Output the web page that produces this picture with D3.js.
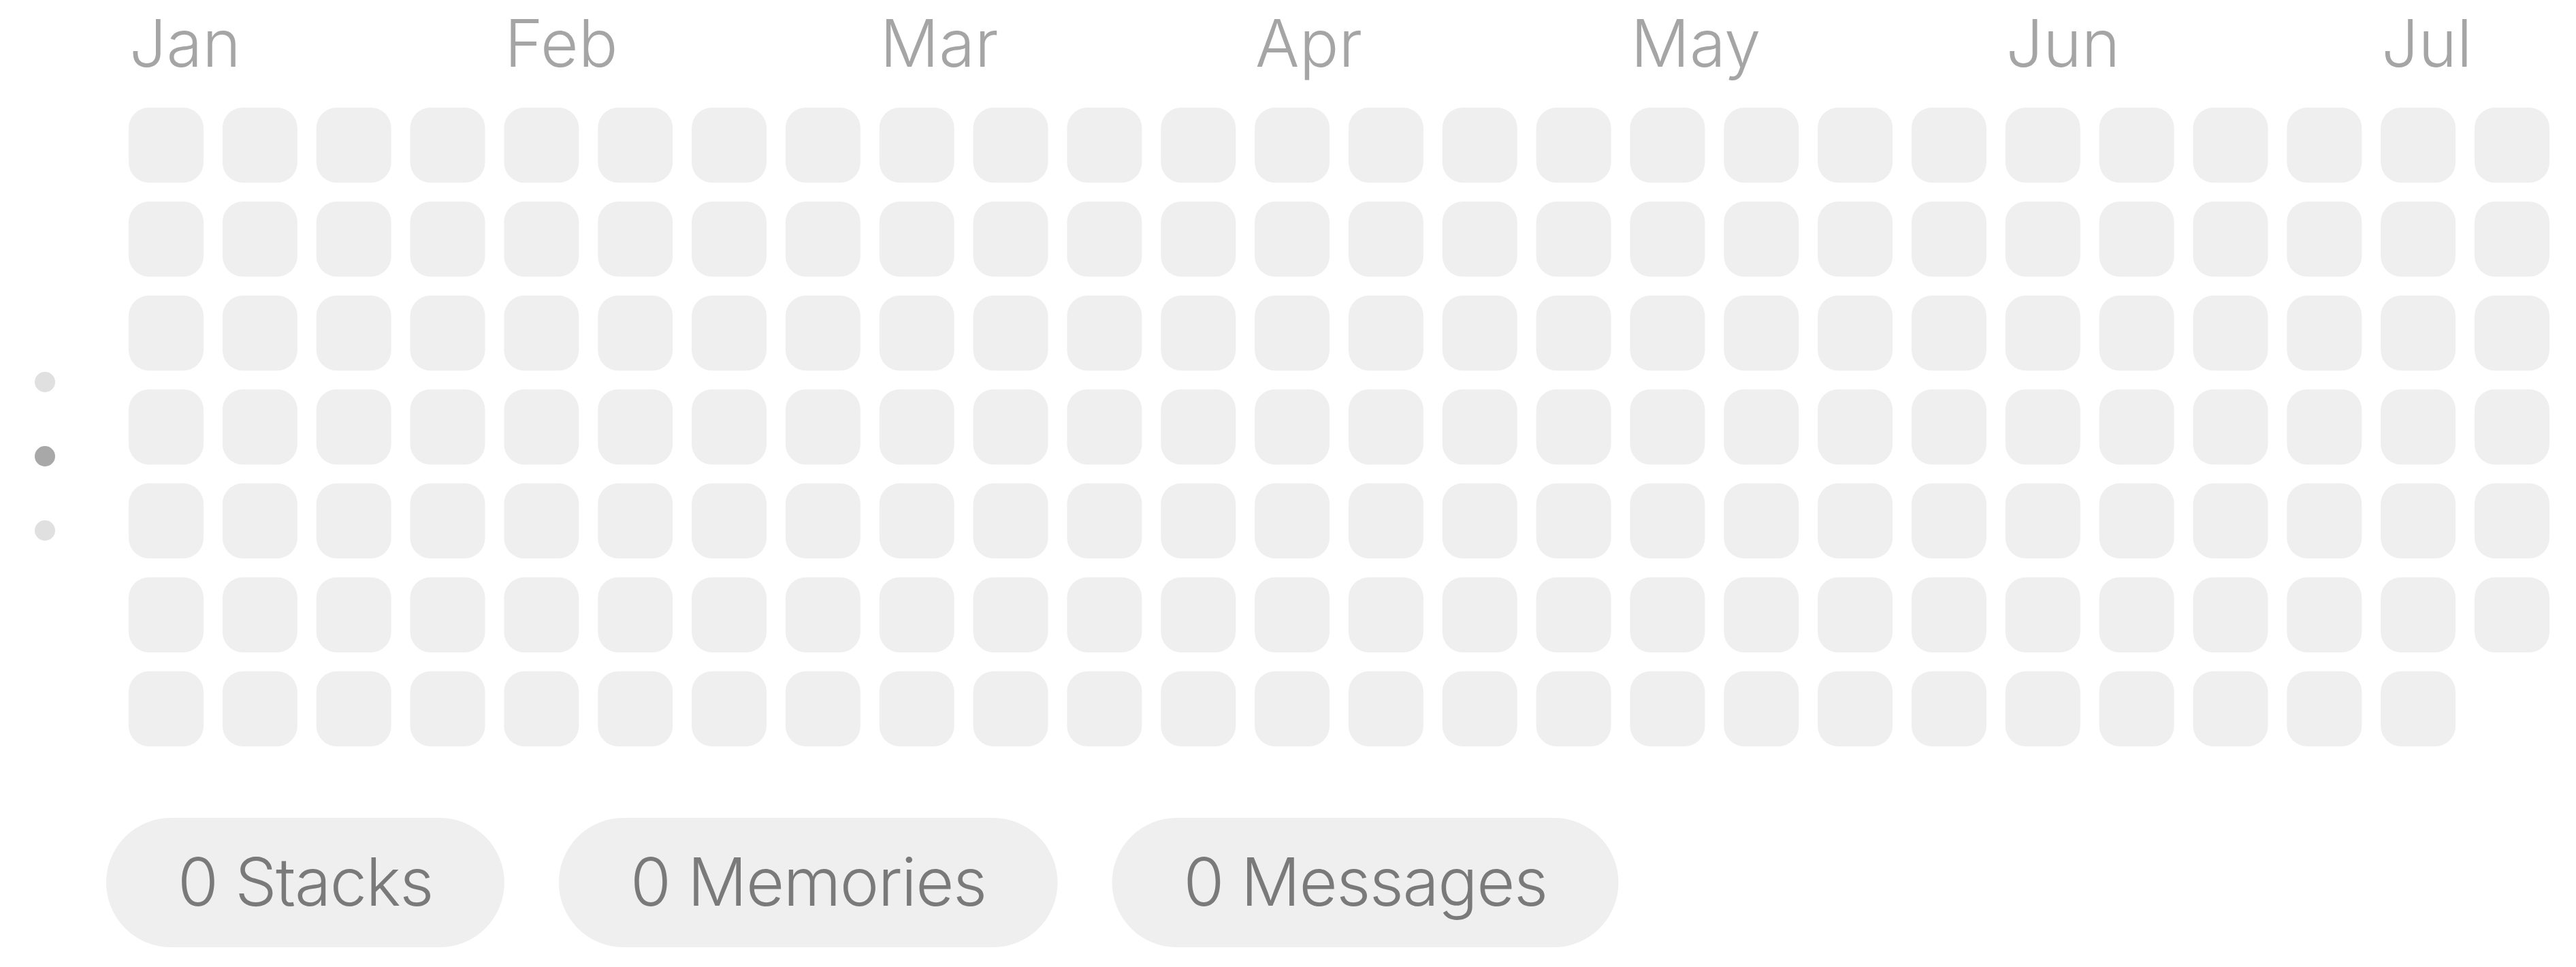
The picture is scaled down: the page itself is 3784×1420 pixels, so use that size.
<!DOCTYPE html>
<html>
<head>
<meta charset="utf-8">
<script src="https://cdn.jsdelivr.net/npm/d3@7/dist/d3.min.js"></script>
<style>
  html, body { margin: 0; padding: 0; background: #ffffff; }
  svg { display: block; }
</style>
</head>
<body>
<svg id="chart" width="3784" height="1420"></svg>
<script>
// ---- data ----
const monthLabels = ["Jan", "Feb", "Mar", "Apr", "May", "Jun", "Jul"];
const monthStartWeek = [0, 4, 8, 12, 16, 20, 24];
const weekdays = [0, 1, 2, 3, 4, 5, 6];
// daily activity counts, one row per week column (26 weeks, last week 6 days)
const dayCounts = [
  0,0,0,0,0,0,0, 0,0,0,0,0,0,0, 0,0,0,0,0,0,0, 0,0,0,0,0,0,0,
  0,0,0,0,0,0,0, 0,0,0,0,0,0,0, 0,0,0,0,0,0,0, 0,0,0,0,0,0,0,
  0,0,0,0,0,0,0, 0,0,0,0,0,0,0, 0,0,0,0,0,0,0, 0,0,0,0,0,0,0,
  0,0,0,0,0,0,0, 0,0,0,0,0,0,0, 0,0,0,0,0,0,0, 0,0,0,0,0,0,0,
  0,0,0,0,0,0,0, 0,0,0,0,0,0,0, 0,0,0,0,0,0,0, 0,0,0,0,0,0,0,
  0,0,0,0,0,0,0, 0,0,0,0,0,0,0, 0,0,0,0,0,0,0, 0,0,0,0,0,0,0,
  0,0,0,0,0,0,0, 0,0,0,0,0,0
];
const statLabels = ["Stacks", "Memories", "Messages"];
const statValues = [0, 0, 0];
const pagerDots = [0, 1, 2];
const activePage = 1;

// ---- layout ----
const svg = d3.select("#chart");
const FONT = "Inter, 'Open Sans', sans-serif";
const nWeeks = Math.ceil(dayCounts.length / 7);

const x = d3.scaleBand()
  .domain(d3.range(nWeeks))
  .range([189, 3745])
  .paddingInner(0.202)
  .paddingOuter(0);

const y = d3.scaleBand()
  .domain(weekdays)
  .range([158, 1096])
  .paddingInner(0.2)
  .paddingOuter(0);

const color = d3.scaleLinear()
  .domain([0, 10])
  .range(["#efefef", "#7a7a7a"])
  .clamp(true);

// month labels
svg.append("g")
  .selectAll("text")
  .data(monthLabels)
  .join("text")
  .attr("x", (d, i) => x(monthStartWeek[i]) + 1)
  .attr("y", 98)
  .attr("font-family", FONT)
  .attr("font-weight", 300)
  .attr("font-size", 96)
  .attr("fill", "#a5a5a5")
  .text(d => d);

// cells
const cells = dayCounts.map((v, i) => ({ week: Math.floor(i / 7), day: i % 7, value: v }));
svg.append("g")
  .selectAll("rect")
  .data(cells)
  .join("rect")
  .attr("x", d => x(d.week))
  .attr("y", d => y(d.day))
  .attr("width", x.bandwidth())
  .attr("height", y.bandwidth())
  .attr("rx", 30)
  .attr("ry", 30)
  .attr("fill", d => color(d.value));

// pager dots
const dotY = d3.scalePoint().domain(pagerDots).range([561, 779]);
svg.append("g")
  .selectAll("circle")
  .data(pagerDots)
  .join("circle")
  .attr("cx", 66)
  .attr("cy", d => dotY(d))
  .attr("r", 15)
  .attr("fill", d => d === activePage ? "#a8a8a8" : "#e0e0e0");

// stat pills
const pillG = svg.append("g");
let px = 156;
const pillTop = 1201, pillH = 190, padX = 105, gap = 80;
statLabels.forEach((lab, i) => {
  const g = pillG.append("g");
  const rect = g.append("rect");
  const t = g.append("text")
    .attr("y", pillTop + pillH / 2)
    .attr("dy", "0.355em")
    .attr("font-family", FONT)
    .attr("font-weight", 300)
    .attr("font-size", 97)
    .attr("letter-spacing", -1.5)
    .attr("fill", "#7a7a7a")
    .text(statValues[i] + " " + lab);
  const w = t.node().getComputedTextLength();
  t.attr("x", px + padX);
  rect.attr("x", px).attr("y", pillTop)
    .attr("width", w + 2 * padX).attr("height", pillH)
    .attr("rx", pillH / 2).attr("ry", pillH / 2)
    .attr("fill", "#efefef");
  px += w + 2 * padX + gap;
});
</script>
</body>
</html>
